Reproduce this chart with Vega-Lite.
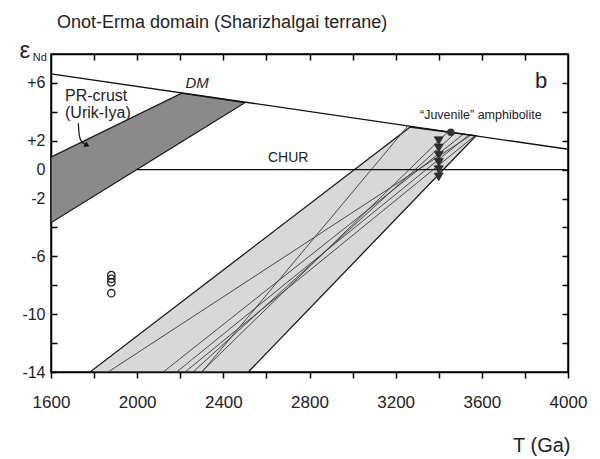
{
  "$schema": "https://vega.github.io/schema/vega-lite/v6.json",
  "width": 517,
  "height": 318,
  "autosize": {"type": "none"},
  "padding": {"left": 51, "top": 54, "right": 32, "bottom": 87},
  "background": "white",
  "config": {
    "view": {"stroke": "black", "strokeWidth": 1.5},
    "font": "Liberation Sans",
    "axis": {
      "domainColor": "black", "domainWidth": 1.5, "tickColor": "black", "tickWidth": 1.5,
      "grid": false, "labelFont": "Liberation Sans", "labelColor": "#222", "labelFontSize": 16,
      "labelFlush": false,
      "titleFont": "Liberation Sans", "titleColor": "#222", "titleFontWeight": "normal"
    }
  },
  "datasets": {
    "band": [
      {"eps": -14, "t1": 1781, "t2": 2516},
      {"eps": 2.34, "t1": 3214, "t2": 3573},
      {"eps": 2.95, "t1": 3267, "t2": 3267}
    ],
    "crust": [
      {"T": 1600, "top": 0.86, "bot": -3.67},
      {"T": 2207, "top": 5.29, "bot": 1.93},
      {"T": 2500, "top": 4.63, "bot": 4.63}
    ],
    "ref": [
      {"line": "DM", "T": 1600, "eps": 6.63},
      {"line": "DM", "T": 4000, "eps": 1.41},
      {"line": "CHUR", "T": 1999, "eps": 0},
      {"line": "CHUR", "T": 4000, "eps": 0}
    ],
    "models": [
      {"id": "a", "T": 1865, "eps": -14}, {"id": "a", "T": 3550, "eps": 2.39},
      {"id": "b", "T": 2121, "eps": -14}, {"id": "b", "T": 3515, "eps": 2.46},
      {"id": "c", "T": 2183, "eps": -14}, {"id": "c", "T": 3541, "eps": 2.41},
      {"id": "d", "T": 2222, "eps": -14}, {"id": "d", "T": 3568, "eps": 2.35},
      {"id": "e", "T": 2259, "eps": -14}, {"id": "e", "T": 3478, "eps": 2.55},
      {"id": "f", "T": 2298, "eps": -14}, {"id": "f", "T": 3443, "eps": 2.62},
      {"id": "g", "T": 2301, "eps": -14}, {"id": "g", "T": 3257, "eps": 3.03}
    ],
    "triangles": [
      {"T": 3400, "eps": 2.0}, {"T": 3400, "eps": 1.5}, {"T": 3400, "eps": 1.0},
      {"T": 3400, "eps": 0.5}, {"T": 3400, "eps": 0.0}, {"T": 3400, "eps": -0.5}
    ],
    "juvenile": [{"T": 3456, "eps": 2.59}],
    "open": [
      {"T": 1880, "eps": -7.3}, {"T": 1880, "eps": -7.55},
      {"T": 1880, "eps": -7.8}, {"T": 1880, "eps": -8.55}
    ],
    "leader": [
      {"T": 1727, "eps": 3.21}, {"T": 1731, "eps": 1.93}, {"T": 1765, "eps": 1.7}
    ],
    "arrowhead": [{"T": 1764, "eps": 1.71}]
  },
  "resolve": {"axis": {"x": "independent", "y": "independent"}},
  "layer": [
    {
      "data": {"name": "band"},
      "mark": {"type": "area", "orient": "horizontal", "fill": "#d8d8d8", "stroke": "#1a1a1a", "strokeWidth": 1.3},
      "encoding": {
        "y": {"field": "eps", "type": "quantitative",
              "scale": {"domain": [-14, 8], "nice": false, "zero": false},
              "axis": {"orient": "left", "values": [-14, -12, -10, -8, -6, -4, -2, 0, 2, 4, 6],
                       "labelExpr": "(datum.value == 6 || datum.value == 2) ? '+' + datum.value : ((datum.value == 0 || datum.value == -2 || datum.value == -6 || datum.value == -10 || datum.value == -14) ? '' + datum.value : '')",
                       "tickSize": -6, "labelPadding": 12, "title": null}},
        "x": {"field": "t1", "type": "quantitative",
              "scale": {"domain": [1600, 4000], "nice": false, "zero": false},
              "axis": {"orient": "bottom", "values": [1600, 1800, 2000, 2200, 2400, 2600, 2800, 3000, 3200, 3400, 3600, 3800, 4000],
                       "labelExpr": "datum.value % 400 == 0 ? '' + datum.value : ''",
                       "tickSize": 6, "labelPadding": 16, "labelFontSize": 17,
                       "title": "T (Ga)", "titleFontSize": 20, "titleAnchor": "end", "titleAlign": "right",
                       "titleBaseline": "alphabetic", "titleX": 519, "titleY": 79}},
        "x2": {"field": "t2"}
      }
    },
    {
      "data": {"name": "crust"},
      "mark": {"type": "area", "fill": "#8a8a8a", "stroke": "#1a1a1a", "strokeWidth": 1.3},
      "encoding": {
        "x": {"field": "T", "type": "quantitative", "axis": null},
        "y": {"field": "top", "type": "quantitative", "axis": null},
        "y2": {"field": "bot"}
      }
    },
    {
      "data": {"name": "models"},
      "mark": {"type": "line", "stroke": "#3a3a3a", "strokeWidth": 0.9},
      "encoding": {
        "x": {"field": "T", "type": "quantitative", "axis": null},
        "y": {"field": "eps", "type": "quantitative", "axis": null},
        "detail": {"field": "id"}
      }
    },
    {
      "data": {"name": "ref"},
      "mark": {"type": "line", "stroke": "#111", "strokeWidth": 1.3},
      "encoding": {
        "x": {"field": "T", "type": "quantitative",
              "axis": {"orient": "top", "values": [1800, 2000, 2200, 2400, 2600, 2800, 3000, 3200, 3400, 3600, 3800],
                       "labels": false, "tickSize": -6, "title": null, "minExtent": 0, "maxExtent": 0}},
        "y": {"field": "eps", "type": "quantitative",
              "axis": {"orient": "right", "values": [-12, -10, -8, -6, -4, -2, 0, 2, 4, 6],
                       "labels": false, "tickSize": -6, "title": null, "minExtent": 0, "maxExtent": 0}},
        "detail": {"field": "line"}
      }
    },
    {
      "data": {"name": "triangles"},
      "mark": {"type": "point", "shape": "triangle-down", "filled": true, "fill": "#2e2e2e", "stroke": "#2e2e2e", "strokeWidth": 0.8, "opacity": 1, "size": 80},
      "encoding": {
        "x": {"field": "T", "type": "quantitative", "axis": null},
        "y": {"field": "eps", "type": "quantitative", "axis": null}
      }
    },
    {
      "data": {"name": "juvenile"},
      "mark": {"type": "point", "shape": "circle", "filled": true, "fill": "#333", "opacity": 1, "size": 55},
      "encoding": {
        "x": {"field": "T", "type": "quantitative", "axis": null},
        "y": {"field": "eps", "type": "quantitative", "axis": null}
      }
    },
    {
      "data": {"name": "open"},
      "mark": {"type": "point", "shape": "circle", "filled": false, "stroke": "#222", "strokeWidth": 1.3, "opacity": 1, "size": 55},
      "encoding": {
        "x": {"field": "T", "type": "quantitative", "axis": null},
        "y": {"field": "eps", "type": "quantitative", "axis": null}
      }
    },
    {
      "data": {"name": "leader"},
      "mark": {"type": "line", "stroke": "#111", "strokeWidth": 1.2, "interpolate": "basis"},
      "encoding": {
        "x": {"field": "T", "type": "quantitative", "axis": null},
        "y": {"field": "eps", "type": "quantitative", "axis": null}
      }
    },
    {
      "data": {"name": "arrowhead"},
      "mark": {"type": "point", "shape": "triangle", "angle": 115, "filled": true, "fill": "#111", "opacity": 1, "size": 35},
      "encoding": {
        "x": {"field": "T", "type": "quantitative", "axis": null},
        "y": {"field": "eps", "type": "quantitative", "axis": null}
      }
    },
    {
      "data": {"values": [{"label": "Onot-Erma domain (Sharizhalgai terrane)", "T": 1628, "eps": 9.8}]},
      "mark": {"type": "text", "fontSize": 18, "align": "left", "baseline": "alphabetic", "color": "#222"},
      "encoding": {
        "x": {"field": "T", "type": "quantitative", "axis": null},
        "y": {"field": "eps", "type": "quantitative", "axis": null},
        "text": {"field": "label"}
      }
    },
    {
      "data": {"values": [{"label": "DM", "T": 2278, "eps": 6.0}]},
      "mark": {"type": "text", "fontSize": 15, "fontStyle": "italic", "align": "center", "baseline": "middle", "color": "#222"},
      "encoding": {
        "x": {"field": "T", "type": "quantitative", "axis": null},
        "y": {"field": "eps", "type": "quantitative", "axis": null},
        "text": {"field": "label"}
      }
    },
    {
      "data": {"values": [{"label": "b", "T": 3875, "eps": 5.65}]},
      "mark": {"type": "text", "fontSize": 22, "align": "center", "baseline": "alphabetic", "color": "#222"},
      "encoding": {
        "x": {"field": "T", "type": "quantitative", "axis": null},
        "y": {"field": "eps", "type": "quantitative", "axis": null},
        "text": {"field": "label"}
      }
    },
    {
      "data": {"values": [{"label": "PR-crust", "T": 1665, "eps": 5.09}, {"label": "(Urik-Iya)", "T": 1665, "eps": 3.92}]},
      "mark": {"type": "text", "fontSize": 16, "align": "left", "baseline": "middle", "color": "#222"},
      "encoding": {
        "x": {"field": "T", "type": "quantitative", "axis": null},
        "y": {"field": "eps", "type": "quantitative", "axis": null},
        "text": {"field": "label"}
      }
    },
    {
      "data": {"values": [{"label": "CHUR", "T": 2607, "eps": 0.8}]},
      "mark": {"type": "text", "fontSize": 14, "align": "left", "baseline": "middle", "color": "#222"},
      "encoding": {
        "x": {"field": "T", "type": "quantitative", "axis": null},
        "y": {"field": "eps", "type": "quantitative", "axis": null},
        "text": {"field": "label"}
      }
    },
    {
      "data": {"values": [{"label": "“Juvenile” amphibolite", "T": 3313, "eps": 3.78}]},
      "mark": {"type": "text", "fontSize": 12.5, "align": "left", "baseline": "middle", "color": "#222"},
      "encoding": {
        "x": {"field": "T", "type": "quantitative", "axis": null},
        "y": {"field": "eps", "type": "quantitative", "axis": null},
        "text": {"field": "label"}
      }
    },
    {
      "data": {"values": [{"label": "ε", "T": 1479, "eps": 7.72}]},
      "mark": {"type": "text", "fontSize": 24, "align": "center", "baseline": "alphabetic", "color": "#222"},
      "encoding": {
        "x": {"field": "T", "type": "quantitative", "axis": null},
        "y": {"field": "eps", "type": "quantitative", "axis": null},
        "text": {"field": "label"}
      }
    },
    {
      "data": {"values": [{"label": "Nd", "T": 1515, "eps": 7.52}]},
      "mark": {"type": "text", "fontSize": 11, "align": "left", "baseline": "alphabetic", "color": "#222"},
      "encoding": {
        "x": {"field": "T", "type": "quantitative", "axis": null},
        "y": {"field": "eps", "type": "quantitative", "axis": null},
        "text": {"field": "label"}
      }
    }
  ]
}
